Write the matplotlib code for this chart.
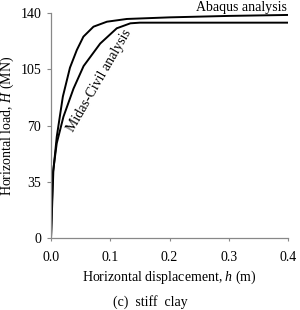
import matplotlib
matplotlib.use("Agg")
import matplotlib.pyplot as plt

# Abaqus analysis
abaqus_h = [0.0, 0.004, 0.0097, 0.02, 0.032, 0.0436, 0.0547, 0.0717, 0.0944, 0.128, 0.2, 0.3, 0.4]
abaqus_H = [0.0, 42.0, 63.0, 88.0, 106.0, 117.0, 125.3, 131.5, 134.6, 136.3, 137.3, 138.2, 138.8]

# Midas-Civil analysis
midas_h = [0.0, 0.003, 0.0097, 0.021, 0.038, 0.055, 0.083, 0.111, 0.134, 0.15, 0.4]
midas_H = [0.0, 40.0, 59.0, 75.5, 93.0, 107.0, 121.0, 130.5, 133.6, 134.0, 134.0]

yticks = [0, 35, 70, 105, 140]
xticks = [0.0, 0.1, 0.2, 0.3, 0.4]

plt.rcParams['font.family'] = ['Liberation Serif', 'DejaVu Serif']
plt.rcParams['mathtext.fontset'] = 'custom'
plt.rcParams['mathtext.it'] = 'Liberation Serif:italic'
plt.rcParams['mathtext.rm'] = 'Liberation Serif'

fig = plt.figure(figsize=(3.0, 3.1), dpi=100)
ax = fig.add_axes([0.17, 0.232, 0.79, 0.726])

ax.plot(abaqus_h, abaqus_H, color="black", linewidth=1.4)
ax.plot(midas_h, midas_H, color="black", linewidth=1.4)

ax.set_xlim(0, 0.4)
ax.set_ylim(0, 140)
ax.set_xticks(xticks)
ax.set_xticklabels(["%.1f" % v for v in xticks])
ax.set_yticks(yticks)
ax.tick_params(labelsize=10, length=3, width=0.8, color="#888888")
ax.tick_params(axis="x", pad=7, length=2)
ax.tick_params(axis="y", pad=4)
for s in ["top", "right"]:
    ax.spines[s].set_visible(False)
for s in ["left", "bottom"]:
    ax.spines[s].set_color("#888888")
    ax.spines[s].set_linewidth(0.9)

ax.set_xlabel("Horizontal displacement, $\\mathit{h}$ (m)", fontsize=10, labelpad=4)
ax.set_ylabel("Horizontal load, $\\mathit{H}$ (MN)", fontsize=10, labelpad=3)

ax.text(0.398, 139.5, "Abaqus analysis", fontsize=10, ha="right", va="bottom")
ax.text(0.081, 98, "Midas-Civil analysis", fontsize=10, rotation=60,
        ha="center", va="center", rotation_mode="anchor")

fig.text(0.5, 0.025, "(c)  stiff  clay", fontsize=10, ha="center", va="center")

fig.savefig("out.png", dpi=100)
